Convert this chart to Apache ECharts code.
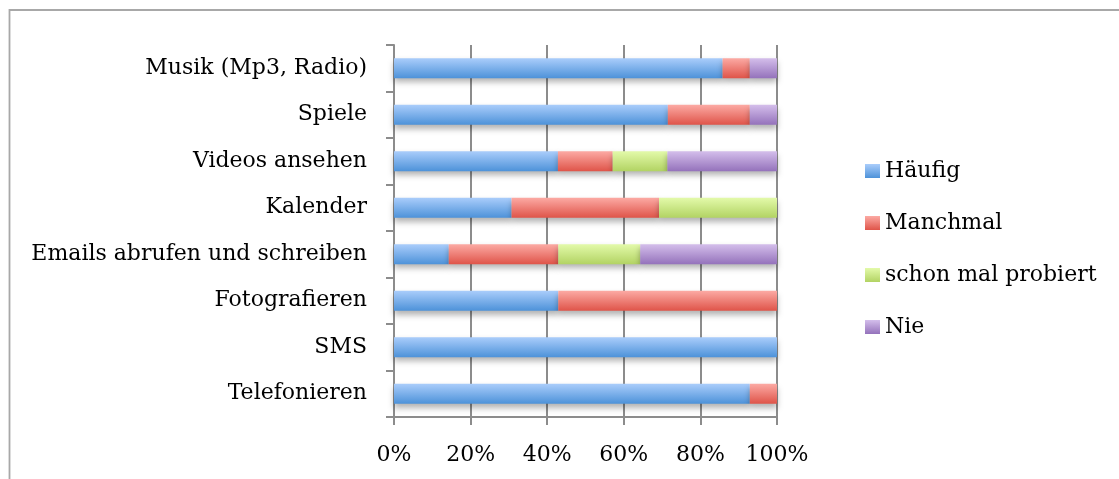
<!DOCTYPE html>
<html>
<head>
<meta charset="utf-8">
<script src="https://cdn.jsdelivr.net/npm/echarts@6/dist/echarts.min.js"></script>
<style>
html,body{margin:0;padding:0;background:#fff;}
#chart{width:1119px;height:479px;}
</style>
</head>
<body>
<div id="chart"></div>
<script>
// Categories listed bottom to top
const categories = ['Telefonieren', 'SMS', 'Fotografieren', 'Emails abrufen und schreiben', 'Kalender', 'Videos ansehen', 'Spiele', 'Musik (Mp3, Radio)'];
const seriesNames = ['Häufig', 'Manchmal', 'schon mal probiert', 'Nie'];
const haeufig   = [92.9, 100, 42.9, 14.3, 30.7, 42.8, 71.5, 85.8];
const manchmal  = [7.1, 0, 57.1, 28.6, 38.5, 14.3, 21.4, 7.1];
const probiert  = [0, 0, 0, 21.4, 30.8, 14.3, 0, 0];
const nie       = [0, 0, 0, 35.7, 0, 28.6, 7.1, 7.1];
const xTicks = [0, 20, 40, 60, 80, 100];

const gradients = [
  ['#aacdfb', '#4d92d9'],
  ['#fcaaa4', '#df5449'],
  ['#e3faaa', '#b2d363'],
  ['#d4beeb', '#9472bb']
];
function grad(i){
  return new echarts.graphic.LinearGradient(0,0,0,1,[
    {offset:0,color:gradients[i][0]},{offset:1,color:gradients[i][1]}]);
}
const values = [haeufig, manchmal, probiert, nie];
const FONT = 'DejaVu Serif';

const chart = echarts.init(document.getElementById('chart'), null, {renderer:'canvas'});
chart.setOption({
  animation:false,
  backgroundColor:'#fff',
  graphic:[{
    type:'rect', z:-10, silent:true,
    shape:{x:9.5, y:10, width:2000, height:2000},
    style:{fill:'none', stroke:'#a8a8a8', lineWidth:1.8}
  }],
  grid:{left:394, right:342, top:45, bottom:62, containLabel:false},
  legend:{
    orient:'vertical', left:860, top:155,
    itemWidth:15, itemHeight:14, itemGap:30,
    icon:'rect',
    textStyle:{fontFamily:FONT, fontSize:22, color:'#000'},
    data:seriesNames
  },
  xAxis:{
    type:'value', min:0, max:100, interval:20,
    axisLine:{show:true, lineStyle:{color:'#8c8c8c', width:2}},
    axisTick:{show:true, length:8, lineStyle:{color:'#8c8c8c', width:2}},
    splitLine:{show:true, lineStyle:{color:'#8c8c8c', width:2}},
    axisLabel:{formatter: v => (xTicks.indexOf(v) >= 0 ? v + '%' : ''), fontFamily:FONT, fontSize:22, color:'#000', margin:27}
  },
  yAxis:{
    type:'category', data:categories,
    axisLine:{show:true, lineStyle:{color:'#8c8c8c', width:2}},
    axisTick:{show:true, length:8, lineStyle:{color:'#8c8c8c', width:2}},
    axisLabel:{fontFamily:FONT, fontSize:22, color:'#000', margin:27}
  },
  series: seriesNames.map((n,i)=>({
    name:n, type:'bar', stack:'total', barWidth:20,
    data:values[i],
    itemStyle:{color:grad(i), shadowColor:'rgba(0,0,0,0.3)', shadowBlur:6, shadowOffsetY:4}
  }))
});
</script>
</body>
</html>
